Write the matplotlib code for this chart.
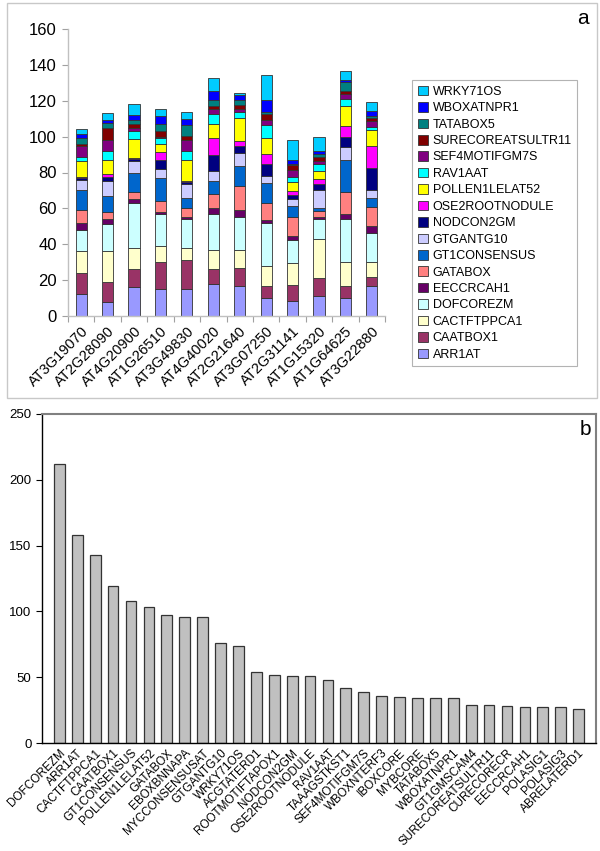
import matplotlib
matplotlib.use("Agg")
import matplotlib.pyplot as plt
from matplotlib.patches import Rectangle
from matplotlib.ticker import FixedLocator
import numpy as np

plt.rcParams['font.family'] = ['Liberation Sans', 'DejaVu Sans']

# ---------------- Panel a data ----------------
genes = ["AT3G19070", "AT2G28090", "AT4G20900", "AT1G26510", "AT3G49830", "AT4G40020",
         "AT2G21640", "AT3G07250", "AT2G31141", "AT1G15320", "AT1G64625", "AT3G22880"]

motifs = ["ARR1AT", "CAATBOX1", "CACTFTPPCA1", "DOFCOREZM", "EECCRCAH1", "GATABOX",
          "GT1CONSENSUS", "GTGANTG10", "NODCON2GM", "OSE2ROOTNODULE", "POLLEN1LELAT52",
          "RAV1AAT", "SEF4MOTIFGM7S", "SURECOREATSULTR11", "TATABOX5", "WBOXATNPR1", "WRKY71OS"]

ARR1AT            = [12, 8, 16, 15, 15, 18, 17, 10, 8.5, 11, 10, 17]
CAATBOX1          = [12, 11, 10, 15, 16, 8, 10, 7, 9, 10, 7, 5]
CACTFTPPCA1       = [12, 17, 12, 9, 7, 11, 10, 11, 12, 22, 13, 8]
DOFCOREZM         = [12, 15.5, 25, 18, 16, 20, 18, 24, 13, 11, 24, 16]
EECCRCAH1         = [4, 2.5, 2, 1, 1, 3, 4, 1.5, 2, 1, 3, 4]
GATABOX           = [7, 4, 4, 6, 5, 8, 13.5, 9.5, 10.5, 3.5, 12, 11]
GT1CONSENSUS      = [11, 9, 10.5, 13, 6, 7, 11, 11, 6.5, 1.5, 18, 5]
GTGANTG10         = [6, 8, 7, 5, 7.5, 6, 7.5, 4, 4, 10, 7, 4]
NODCON2GM         = [1, 2.5, 1, 5, 1, 9, 3.5, 6.5, 2, 3.5, 6, 12.5]
OSE2ROOTNODULE    = [0.5, 1.5, 0.5, 4.5, 1, 9, 3, 6, 2, 3, 6, 12]
POLLEN1LELAT52    = [9, 8, 10.5, 4.5, 11.5, 8, 13, 9, 5, 4.5, 11, 9]
RAV1AAT           = [2, 5, 4.5, 3, 5, 5.5, 3, 7, 3, 4, 4, 2]
SEF4MOTIFGM7S     = [6, 6, 2, 1, 6, 3, 2, 2.5, 4, 1.5, 3, 3]
SURECOREATSULTR11 = [1.5, 7, 2, 3, 2.5, 1.5, 2, 3.5, 2.5, 2, 1.5, 2]
TATABOX5          = [3, 2.5, 2, 4, 6, 3.5, 3, 1, 1, 2, 5, 1]
WBOXATNPR1        = [2.5, 1.5, 3, 4.5, 3.5, 5, 2.5, 7, 2, 1.5, 1, 3]
WRKY71OS          = [3, 4, 6, 4, 3.5, 7, 1.5, 14, 11, 8, 5, 5]

series_a = [ARR1AT, CAATBOX1, CACTFTPPCA1, DOFCOREZM, EECCRCAH1, GATABOX, GT1CONSENSUS,
            GTGANTG10, NODCON2GM, OSE2ROOTNODULE, POLLEN1LELAT52, RAV1AAT, SEF4MOTIFGM7S,
            SURECOREATSULTR11, TATABOX5, WBOXATNPR1, WRKY71OS]

colors_a = ["#9999FF", "#993366", "#FFFFCC", "#CCFFFF", "#660066", "#FF8080", "#0066CC",
            "#CCCCFF", "#000080", "#FF00FF", "#FFFF00", "#00FFFF", "#800080", "#800000",
            "#008080", "#0000FF", "#00CCFF"]

# ---------------- Panel b data ----------------
motifs_b = ["DOFCOREZM", "ARR1AT", "CACTFTPPCA1", "CAATBOX1", "GT1CONSENSUS", "POLLEN1LELAT52",
            "GATABOX", "EBOXBNNAPA", "MYCCONSENSUSAT", "GTGANTG10", "WRKY71OS", "ACGTATERD1",
            "ROOTMOTIFTAPOX1", "NODCON2GM", "OSE2ROOTNODULE", "RAV1AAT", "TAAAGSTKST1",
            "SEF4MOTIFGM7S", "WBOXNTERF3", "IBOXCORE", "MYBCORE", "TATABOX5", "WBOXATNPR1",
            "GT1GMSCAM4", "SURECOREATSULTR11", "CURECORECR", "EECCRCAH1", "POLASIG1",
            "POLASIG3", "ABRELATERD1"]
counts_b = [212, 158, 143, 119, 108, 103, 97, 96, 96, 76, 74, 54, 52, 51, 51, 48, 42, 39,
            36, 35, 34, 34, 34, 29, 29, 28, 27, 27, 27, 26]

W, H = 600, 851
fig = plt.figure(figsize=(W / 100, H / 100), dpi=100)

def fx(px):
    return px / W

def fy(py):
    return 1 - py / H

# outer frame of panel a
fig.patches.append(Rectangle((fx(7), fy(398)), fx(597) - fx(7), fy(3) - fy(398),
                             transform=fig.transFigure, fill=False, edgecolor="#C8C8C8",
                             linewidth=1.0))

# ---------------- Panel a ----------------
axa = fig.add_axes([fx(68), fy(316), fx(385) - fx(68), fy(29) - fy(316)])
x = np.arange(len(genes))
bottom = np.zeros(len(genes))
handles = []
for name, vals, col in zip(motifs, series_a, colors_a):
    b = axa.bar(x, vals, bottom=bottom, width=0.42, color=col, edgecolor="#333333",
                linewidth=0.6, label=name)
    handles.append(b)
    bottom += np.array(vals)

axa.set_xlim(-0.5, len(genes) - 0.5)
axa.set_ylim(0, 160)
axa.set_yticks(np.arange(0, 161, 20))
axa.tick_params(axis='y', labelsize=12, colors="#A0A0A0", length=4, width=0.8, pad=4)
for lbl in axa.get_yticklabels():
    lbl.set_color("black")
axa.set_xticks(x)
axa.set_xticklabels(genes, rotation=45, ha='right', rotation_mode='anchor', fontsize=10.5)
axa.tick_params(axis='x', which='major', length=0, pad=6)
axa.xaxis.set_minor_locator(FixedLocator(np.arange(-0.5, len(genes), 1.0)))
axa.tick_params(axis='x', which='minor', length=4, color="#A0A0A0", width=0.8)
for s in ['top', 'right']:
    axa.spines[s].set_visible(False)
for s in ['left', 'bottom']:
    axa.spines[s].set_color("#C0C0C0")
    axa.spines[s].set_linewidth(1.0)

leg = fig.legend(handles[::-1], motifs[::-1], loc='upper left',
                 bbox_to_anchor=(fx(412), fy(80)), bbox_transform=fig.transFigure,
                 fontsize=9, frameon=True, fancybox=False, edgecolor="#A0A0A0",
                 handlelength=0.8, handleheight=0.8, handletextpad=0.4, labelspacing=0.345,
                 borderpad=0.45, borderaxespad=0)
leg.get_frame().set_linewidth(0.8)
fig.text(fx(583), fy(18), "a", fontsize=15, ha='center', va='center')

# ---------------- Panel b ----------------
axb = fig.add_axes([fx(42), fy(743), fx(596) - fx(42), fy(414) - fy(743)])
xb = np.arange(len(motifs_b))
axb.bar(xb, counts_b, width=0.6, color="#C0C0C0", edgecolor="#333333", linewidth=0.9)
axb.set_xlim(-0.97, len(motifs_b) - 0.03)
axb.set_ylim(0, 250)
axb.set_yticks(np.arange(0, 251, 50))
axb.tick_params(axis='y', labelsize=9.5, length=4, width=0.8)
axb.set_xticks(xb)
axb.set_xticklabels(motifs_b, rotation=45, ha='right', rotation_mode='anchor', fontsize=8.5)
axb.tick_params(axis='x', length=0, pad=3)
for s in ['top', 'right']:
    axb.spines[s].set_color("#808080")
    axb.spines[s].set_linewidth(1.5)
for s in ['left', 'bottom']:
    axb.spines[s].set_color("black")
    axb.spines[s].set_linewidth(1.0)
fig.text(fx(585), fy(430), "b", fontsize=15, ha='center', va='center')

fig.savefig("out.png", dpi=100)
